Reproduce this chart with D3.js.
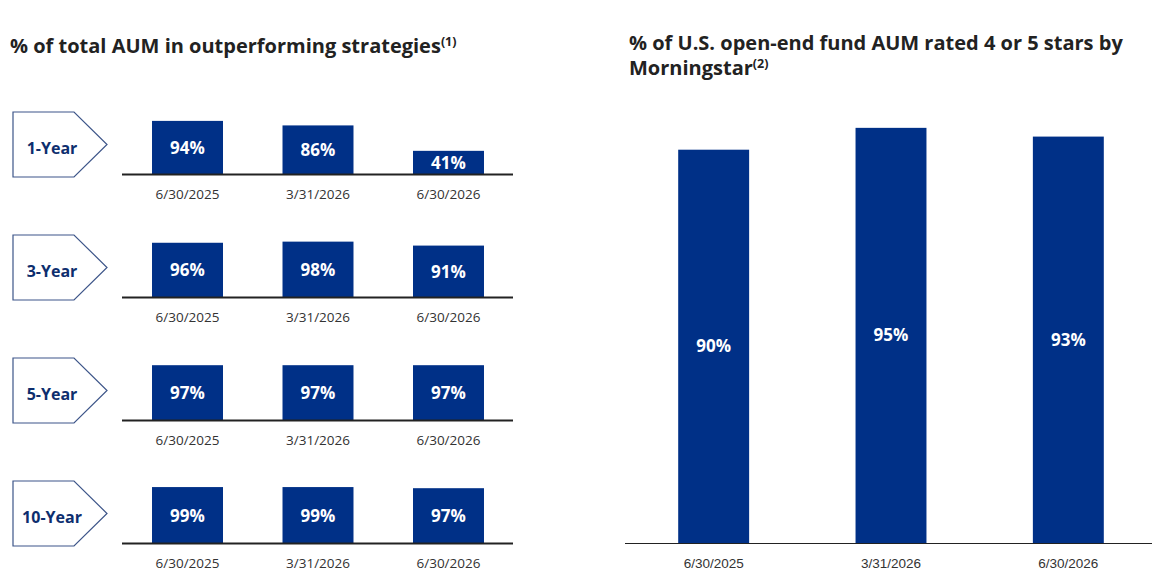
<!DOCTYPE html>
<html>
<head>
<meta charset="utf-8">
<script src="https://cdn.jsdelivr.net/npm/d3@7"></script>
<style>
  body { margin: 0; background: #fff; }
  svg { display: block; font-family: "Open Sans", "Noto Sans", sans-serif; }
  .title { font-weight: 700; fill: #222; font-size: 20px; }
  .sup { font-size: 12.5px; }
  .date { fill: #333; font-size: 13.5px; }
  .barlabel { fill: #fff; font-weight: 700; font-size: 17px; }
  .tag { fill: #0d2e6e; font-weight: 700; font-size: 16px; }
</style>
</head>
<body>
<div id="chart"></div>
<script>
// data
var dates = ["6/30/2025", "3/31/2026", "6/30/2026"];
var periods = ["1-Year", "3-Year", "5-Year", "10-Year"];
var outperforming = [
    [94, 86, 41],
    [96, 98, 91],
    [97, 97, 97],
    [99, 99, 97]
];
var morningstar = [90, 95, 93];

var W = 1161, H = 583;
var navy = "#003087";

var svg = d3.select("#chart").append("svg")
    .attr("width", W)
    .attr("height", H);

// ---- left panel: small multiples ----
var leftTitle = svg.append("text").attr("class", "title").attr("x", 10).attr("y", 53);
leftTitle.append("tspan").text("% of total AUM in outperforming strategies");
leftTitle.append("tspan").attr("class", "sup").attr("dy", -7).text("(1)");

var xLeft = d3.scaleBand()
    .domain(dates)
    .range([122, 514])
    .paddingInner(0.456)
    .paddingOuter(0.23);

var yLeft = d3.scaleLinear().domain([0, 100]).range([0, 56.5]);

var rowY = d3.scalePoint().domain(periods).range([174, 543]);

periods.forEach(function(p, i){
    var base = rowY(p);
    var g = svg.append("g");

    // pentagon tag
    var top = base - 62, bot = base + 3, mid = (top + bot) / 2;
    g.append("path")
        .attr("d", "M13," + top + "H74L107," + mid + "L74," + bot + "H13Z")
        .attr("fill", "#fff")
        .attr("stroke", "#3d5589")
        .attr("stroke-width", 1.2);
    g.append("text")
        .attr("class", "tag")
        .attr("x", 52)
        .attr("y", mid + 9)
        .attr("text-anchor", "middle")
        .text(p);

    var vals = outperforming[i];
    g.selectAll("rect")
        .data(vals)
        .enter()
        .append("rect")
        .attr("x", function(d, j){ return xLeft(dates[j]); })
        .attr("y", function(d){ return base - yLeft(d); })
        .attr("width", xLeft.bandwidth())
        .attr("height", function(d){ return yLeft(d); })
        .attr("fill", navy);

    g.selectAll(".barlabel")
        .data(vals)
        .enter()
        .append("text")
        .attr("class", "barlabel")
        .attr("x", function(d, j){ return xLeft(dates[j]) + xLeft.bandwidth() / 2; })
        .attr("y", function(d){ return base - yLeft(d) / 2 + 6.5; })
        .attr("text-anchor", "middle")
        .text(function(d){ return d + "%"; });

    g.append("line")
        .attr("x1", 122).attr("x2", 513)
        .attr("y1", base + 0.5).attr("y2", base + 0.5)
        .attr("stroke", "#222")
        .attr("stroke-width", 2);

    g.selectAll(".date")
        .data(dates)
        .enter()
        .append("text")
        .attr("class", "date")
        .attr("x", function(d){ return xLeft(d) + xLeft.bandwidth() / 2; })
        .attr("y", base + 25)
        .attr("text-anchor", "middle")
        .text(function(d){ return d; });
});

// ---- right panel ----
var rightTitle = svg.append("text").attr("class", "title").attr("x", 629).attr("y", 50);
rightTitle.append("tspan").text("% of U.S. open-end fund AUM rated 4 or 5 stars by");
var line2 = svg.append("text").attr("class", "title").attr("x", 629).attr("y", 75);
line2.append("tspan").text("Morningstar");
line2.append("tspan").attr("class", "sup").attr("dy", -7).text("(2)");

var baseR = 543;
var xRight = d3.scaleBand()
    .domain(dates)
    .range([625, 1157])
    .paddingInner(0.6)
    .paddingOuter(0.3);

var yRight = d3.scaleLinear().domain([0, 100]).range([baseR, baseR - 437]);

svg.selectAll(".rbar")
    .data(morningstar)
    .enter()
    .append("rect")
    .attr("class", "rbar")
    .attr("x", function(d, j){ return xRight(dates[j]); })
    .attr("y", function(d){ return yRight(d); })
    .attr("width", xRight.bandwidth())
    .attr("height", function(d){ return baseR - yRight(d); })
    .attr("fill", navy);

svg.selectAll(".rlabel")
    .data(morningstar)
    .enter()
    .append("text")
    .attr("class", "barlabel")
    .attr("x", function(d, j){ return xRight(dates[j]) + xRight.bandwidth() / 2; })
    .attr("y", function(d){ return (yRight(d) + baseR) / 2 + 6; })
    .attr("text-anchor", "middle")
    .text(function(d){ return d + "%"; });

svg.append("line")
    .attr("x1", 625).attr("x2", 1152)
    .attr("y1", baseR + 0.5).attr("y2", baseR + 0.5)
    .attr("stroke", "#222")
    .attr("stroke-width", 1.2);

var xAxisR = d3.axisBottom(xRight).tickSize(0).tickPadding(15);
svg.append("g")
    .attr("transform", "translate(0," + baseR + ")")
    .call(xAxisR)
    .call(function(g){ g.select(".domain").remove(); })
    .selectAll("text")
    .attr("class", "date")
    .style("font-family", "inherit")
    .attr("fill", "#333")
    .style("font-size", "13.5px");
</script>
</body>
</html>
